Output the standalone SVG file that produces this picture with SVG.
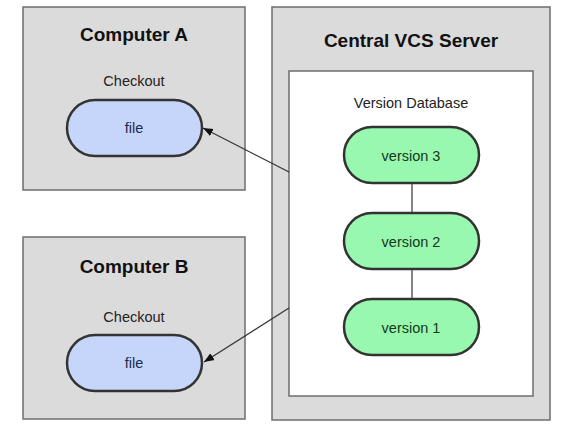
<svg xmlns="http://www.w3.org/2000/svg" width="577" height="433" viewBox="0 0 577 433">
<defs>
<style>
.box{fill:#dcdbdc;stroke:#6e6e6e;stroke-width:1.5}
.inner{fill:#ffffff;stroke:#6e6e6e;stroke-width:1.5}
.file{fill:#c6d6fb;stroke:#333333;stroke-width:2.5}
.ver{fill:#99f8b0;stroke:#333333;stroke-width:2.5}
.title{font-family:"Liberation Sans",Arial,sans-serif;font-weight:bold;font-size:19px;fill:#111111;text-anchor:middle}
.lbl{font-family:"Liberation Sans",Arial,sans-serif;font-size:14.5px;fill:#222222;text-anchor:middle}
.flbl{font-family:"Liberation Sans",Arial,sans-serif;font-size:14.5px;fill:#1c2a4c;text-anchor:middle}
.vlbl{font-family:"Liberation Sans",Arial,sans-serif;font-size:14.5px;fill:#143a1c;text-anchor:middle}
.conn{stroke:#333333;stroke-width:1.2;fill:none}
</style>
<marker id="arr" viewBox="0 0 10 10" refX="10" refY="5" markerWidth="10" markerHeight="10" markerUnits="userSpaceOnUse" orient="auto">
<path d="M0,1 L10,5 L0,9 Z" fill="#111111"/>
</marker>
</defs>
<rect width="577" height="433" fill="#ffffff"/>
<g id="computerA">
<rect class="box" x="23" y="7" width="222" height="183"/>
<text class="title" x="134" y="41">Computer A</text>
<text class="lbl" x="134" y="86">Checkout</text>
<g id="fileA">
<rect class="file" x="67" y="100" width="135" height="56" rx="28"/>
<text class="flbl" x="134" y="133">file</text>
</g>
</g>
<g id="computerB">
<rect class="box" x="23" y="237" width="222" height="182"/>
<text class="title" x="134" y="273">Computer B</text>
<text class="lbl" x="134" y="322">Checkout</text>
<g id="fileB">
<rect class="file" x="67" y="335" width="135" height="56" rx="28"/>
<text class="flbl" x="134" y="368">file</text>
</g>
</g>
<g id="server">
<rect class="box" x="272" y="7" width="278" height="413"/>
<text class="title" x="411" y="47">Central VCS Server</text>
<rect class="inner" x="289" y="71" width="244" height="325"/>
<text class="lbl" x="411" y="108">Version Database</text>
<g id="version3">
<rect class="ver" x="344" y="127" width="135" height="56" rx="28"/>
<text class="vlbl" x="411" y="161">version 3</text>
</g>
<g id="version2">
<rect class="ver" x="344" y="213" width="135" height="56" rx="28"/>
<text class="vlbl" x="411" y="247">version 2</text>
</g>
<g id="version1">
<rect class="ver" x="344" y="299" width="135" height="56" rx="28"/>
<text class="vlbl" x="411" y="333">version 1</text>
</g>
</g>
<g id="connectors">
<line class="conn" x1="412" y1="183" x2="412" y2="213"/>
<line class="conn" x1="412" y1="269" x2="412" y2="299"/>
<line class="conn" x1="289" y1="172" x2="203" y2="128" marker-end="url(#arr)"/>
<line class="conn" x1="289" y1="308" x2="204" y2="362" marker-end="url(#arr)"/>
</g>
</svg>
